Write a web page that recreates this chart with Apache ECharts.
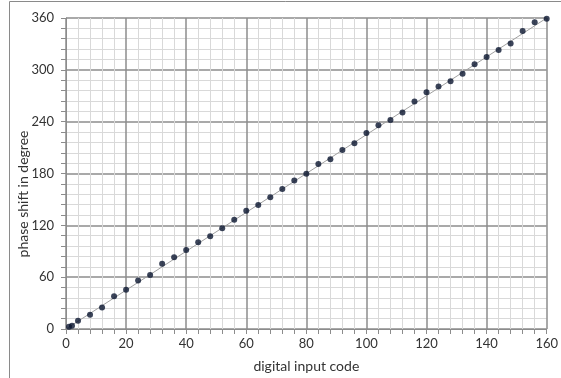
<!DOCTYPE html>
<html><head><meta charset="utf-8">
<script src="https://cdn.jsdelivr.net/npm/echarts@6/dist/echarts.min.js"></script>
<style>html,body{margin:0;padding:0;background:#fff}#c{width:561px;height:378px}</style>
</head><body><div id="c"></div>
<script>
const codes = [1,2,4,8,12,16,20,24,28,32,36,40,44,48,52,56,60,64,68,72,76,80,84,88,92,96,100,104,108,112,116,120,124,128,132,136,140,144,148,152,156,160];
const phases = [2.6,3.8,9.5,16.4,24.8,38,45.3,56,62.5,75.5,83,91.4,100.5,107.4,116.6,126.5,136.8,143.6,152.4,162,171.8,179.8,190.9,196.6,207.2,214.9,227,235.8,242,250.7,263.2,274,280.6,286.9,295.6,306.6,315,323,330.6,345,355,359];
const trendX = [0,160];
const trendY = [0,360];
const xTicks = [0,20,40,60,80,100,120,140,160];
const yTicks = [0,60,120,180,240,300,360];
const xTitle = 'digital input code';
const yTitle = 'phase shift in degree';

const chart = echarts.init(document.getElementById('c'));
const font = 'Lato, "Open Sans", sans-serif';
const axisCommon = {
  axisLine:{show:true,lineStyle:{color:'#8c8c8c',width:1}},
  axisTick:{show:true,length:5,lineStyle:{color:'#8c8c8c'}},
  minorTick:{show:true,splitNumber:5,length:5,lineStyle:{color:'#8c8c8c'}},
  splitLine:{show:true,lineStyle:{color:'#8c8c8c',width:1.5}},
  minorSplitLine:{show:true,lineStyle:{color:'#d9d9d9',width:1}},
  axisLabel:{color:'#333',fontSize:13,fontFamily:font},
  nameTextStyle:{color:'#333',fontSize:14,fontFamily:font}
};
chart.setOption({
  animation:false,
  graphic:[
    {type:'rect',shape:{x:9.5,y:1.5,width:600,height:400},style:{fill:'none',stroke:'#8a8a8a',lineWidth:1},z:-1},
    {type:'text',x:23,y:194,rotation:Math.PI/2,style:{text:yTitle,fill:'#333',font:'14px '+font,textAlign:'center',textVerticalAlign:'middle'}}
  ],
  grid:{left:66,right:12,top:18,bottom:45},
  xAxis:Object.assign({},axisCommon,{type:'value',min:0,max:160,interval:20,
    name:xTitle,nameLocation:'middle',nameGap:30,
    axisLabel:Object.assign({},axisCommon.axisLabel,{margin:8,formatter:v=>xTicks.includes(v)?String(v):''})}),
  yAxis:Object.assign({},axisCommon,{type:'value',min:0,max:360,interval:60,
    axisLabel:Object.assign({},axisCommon.axisLabel,{margin:12,formatter:v=>yTicks.includes(v)?String(v):''})}),
  series:[
    {type:'line',data:trendX.map((x,i)=>[x,trendY[i]]),showSymbol:false,lineStyle:{color:'#a0a0a0',width:1},z:2},
    {type:'scatter',data:codes.map((x,i)=>[x,phases[i]]),symbolSize:6,itemStyle:{color:'#0a1530'},z:3}
  ]
});
</script></body></html>
